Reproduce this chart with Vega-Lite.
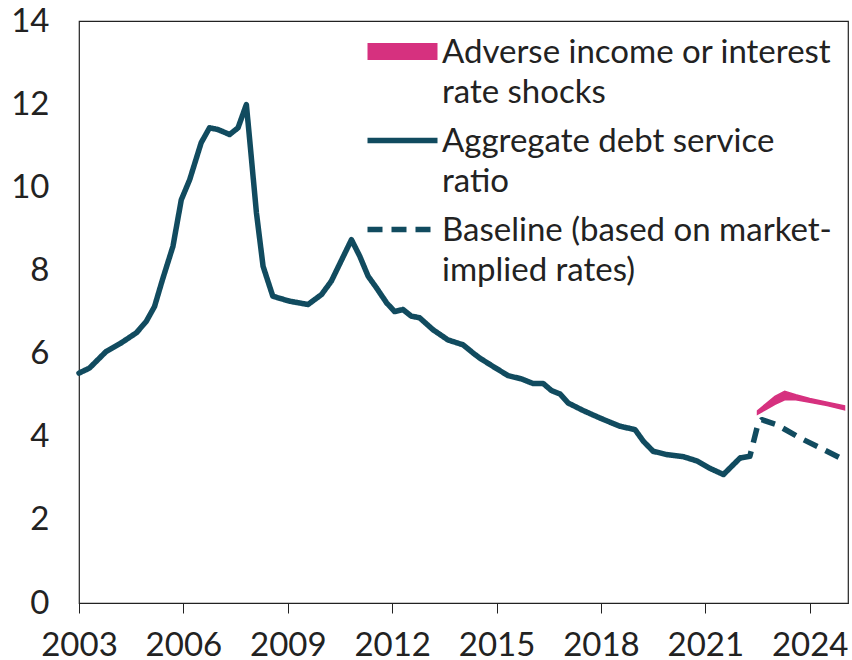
{
  "$schema": "https://vega.github.io/schema/vega-lite/v6.json",
  "width": 769,
  "height": 582,
  "autosize": {"type": "none"},
  "padding": {"left": 79, "top": 21, "right": 4, "bottom": 57},
  "config": {
    "font": "Lato",
    "view": {"stroke": "#222222", "strokeWidth": 1.2},
    "axis": {"labelFont": "Lato", "labelFontSize": 33, "labelColor": "#222222", "grid": false, "domainColor": "#222222", "tickColor": "#222222", "title": null}
  },
  "datasets": {
    "dsr": [
      {"year": 2003.0, "value": 5.53},
      {"year": 2003.3, "value": 5.65},
      {"year": 2003.78, "value": 6.05},
      {"year": 2004.2, "value": 6.25},
      {"year": 2004.65, "value": 6.5},
      {"year": 2004.93, "value": 6.77},
      {"year": 2005.17, "value": 7.13},
      {"year": 2005.4, "value": 7.78},
      {"year": 2005.7, "value": 8.58},
      {"year": 2005.94, "value": 9.7},
      {"year": 2006.18, "value": 10.18},
      {"year": 2006.51, "value": 11.07},
      {"year": 2006.75, "value": 11.43},
      {"year": 2006.99, "value": 11.39},
      {"year": 2007.33, "value": 11.27},
      {"year": 2007.57, "value": 11.43},
      {"year": 2007.81, "value": 11.99},
      {"year": 2007.95, "value": 10.74},
      {"year": 2008.1, "value": 9.38},
      {"year": 2008.29, "value": 8.1},
      {"year": 2008.57, "value": 7.38},
      {"year": 2009.05, "value": 7.26},
      {"year": 2009.58, "value": 7.18},
      {"year": 2009.97, "value": 7.42},
      {"year": 2010.25, "value": 7.74},
      {"year": 2010.83, "value": 8.74},
      {"year": 2011.07, "value": 8.34},
      {"year": 2011.31, "value": 7.86},
      {"year": 2011.55, "value": 7.58},
      {"year": 2011.84, "value": 7.22},
      {"year": 2012.07, "value": 7.01},
      {"year": 2012.31, "value": 7.06},
      {"year": 2012.55, "value": 6.9},
      {"year": 2012.79, "value": 6.86},
      {"year": 2013.18, "value": 6.57},
      {"year": 2013.6, "value": 6.33},
      {"year": 2014.04, "value": 6.21},
      {"year": 2014.33, "value": 6.01},
      {"year": 2014.52, "value": 5.89},
      {"year": 2014.9, "value": 5.69},
      {"year": 2015.33, "value": 5.47},
      {"year": 2015.72, "value": 5.39},
      {"year": 2016.05, "value": 5.28},
      {"year": 2016.34, "value": 5.28},
      {"year": 2016.58, "value": 5.11},
      {"year": 2016.82, "value": 5.03},
      {"year": 2017.06, "value": 4.81},
      {"year": 2017.49, "value": 4.63},
      {"year": 2017.97, "value": 4.45},
      {"year": 2018.55, "value": 4.25},
      {"year": 2018.98, "value": 4.17},
      {"year": 2019.22, "value": 3.89},
      {"year": 2019.5, "value": 3.65},
      {"year": 2019.89, "value": 3.57},
      {"year": 2020.37, "value": 3.52},
      {"year": 2020.75, "value": 3.42},
      {"year": 2021.13, "value": 3.24},
      {"year": 2021.52, "value": 3.09},
      {"year": 2022.0, "value": 3.49}
    ],
    "baseline": [
      {"year": 2022.0, "value": 3.49},
      {"year": 2022.28, "value": 3.53},
      {"year": 2022.52, "value": 4.33},
      {"year": 2022.62, "value": 4.41},
      {"year": 2023.05, "value": 4.29},
      {"year": 2023.72, "value": 3.97},
      {"year": 2024.4, "value": 3.69},
      {"year": 2024.85, "value": 3.5}
    ],
    "adverse": [
      {"year": 2022.5, "upper": 4.62, "lower": 4.54},
      {"year": 2022.75, "upper": 4.8, "lower": 4.66},
      {"year": 2023.0, "upper": 4.97, "lower": 4.78},
      {"year": 2023.28, "upper": 5.09, "lower": 4.89},
      {"year": 2023.6, "upper": 5.01, "lower": 4.89},
      {"year": 2024.0, "upper": 4.92, "lower": 4.83},
      {"year": 2024.5, "upper": 4.83, "lower": 4.75},
      {"year": 2025.0, "upper": 4.74, "lower": 4.65}
    ]
  },
  "layer": [
    {
      "data": {"name": "adverse"},
      "mark": {"type": "area", "color": "#d6317f", "stroke": "#d6317f", "strokeWidth": 1.5},
      "encoding": {
        "x": {"field": "year", "type": "quantitative", "scale": {"domain": [2003, 2025.1], "nice": false, "zero": false},
          "axis": {"values": [2003, 2006, 2009, 2012, 2015, 2018, 2021, 2024], "format": "d", "tickSize": 10, "labelPadding": 16, "labelFlush": false, "labelOverlap": false}},
        "y": {"field": "upper", "type": "quantitative", "scale": {"domain": [0, 14], "nice": false},
          "axis": {"values": [0, 2, 4, 6, 8, 10, 12, 14], "ticks": false, "tickSize": 0, "labelPadding": 30, "domain": false}},
        "y2": {"field": "lower"}
      }
    },
    {
      "data": {"name": "dsr"},
      "transform": [{"calculate": "'Aggregate debt service ratio'", "as": "series"}],
      "mark": {"type": "line", "strokeWidth": 5.5, "strokeCap": "round", "strokeJoin": "round"},
      "encoding": {
        "x": {"field": "year", "type": "quantitative"},
        "y": {"field": "value", "type": "quantitative"},
        "color": {"field": "series", "type": "nominal",
          "scale": {"domain": ["Adverse income or interest rate shocks", "Aggregate debt service ratio", "Baseline (based on market-implied rates)"], "range": ["#d6317f", "#114b5f", "#114b5f"]},
          "legend": {
            "title": null, "orient": "none", "legendX": 307, "legendY": 14,
            "symbolType": "stroke", "symbolSize": 4900, "symbolStrokeWidth": 5.5,
            "labelFont": "Lato", "labelFontSize": 33, "labelColor": "#222222", "labelLimit": 600, "labelOffset": 23,
            "labelBaseline": "alphabetic", "rowPadding": 14, "padding": 0,
            "labelExpr": "datum.value == 'Adverse income or interest rate shocks' ? ['Adverse income or interest', 'rate shocks'] : datum.value == 'Aggregate debt service ratio' ? ['Aggregate debt service', 'ratio'] : ['Baseline (based on market-', 'implied rates)']",
            "encode": {
              "labels": {"update": {"lineHeight": {"value": 40}, "dy": {"value": 11}}},
              "symbols": {"update": {"strokeWidth": {"signal": "datum.value == 'Adverse income or interest rate shocks' ? 17 : 5.5"}, "strokeCap": {"value": "butt"}}}
            }
          }
        },
        "strokeDash": {"field": "series", "type": "nominal",
          "scale": {"domain": ["Adverse income or interest rate shocks", "Aggregate debt service ratio", "Baseline (based on market-implied rates)"], "range": [[1, 0], [1, 0], [15, 9]]},
          "legend": null}
      }
    },
    {
      "data": {"name": "baseline"},
      "transform": [{"calculate": "'Baseline (based on market-implied rates)'", "as": "series"}],
      "mark": {"type": "line", "strokeWidth": 5.5, "strokeCap": "butt", "strokeJoin": "round"},
      "encoding": {
        "x": {"field": "year", "type": "quantitative"},
        "y": {"field": "value", "type": "quantitative"},
        "color": {"field": "series", "type": "nominal"},
        "strokeDash": {"field": "series", "type": "nominal"}
      }
    }
  ]
}
